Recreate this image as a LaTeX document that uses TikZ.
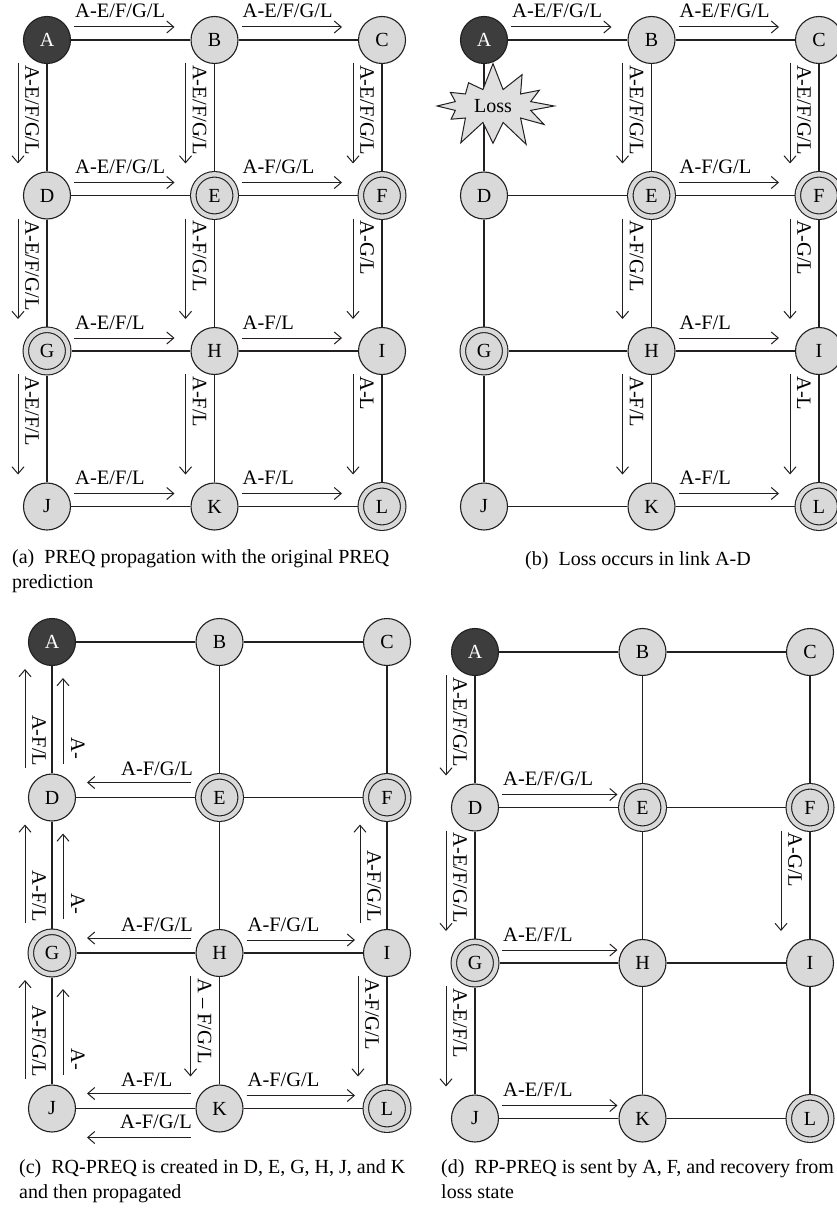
\documentclass[tikz,border=0pt]{standalone}
\usepackage{fontspec}
\setmainfont{Liberation Serif}
\usetikzlibrary{arrows.meta,positioning,shapes.symbols}
\definecolor{ink}{HTML}{231F20}
\definecolor{fillgray}{HTML}{D9D9D9}
\definecolor{srcfill}{HTML}{3D3D3D}
\tikzset{st/.style={circle,draw=ink,fill=fillgray,line width=1.1pt,minimum size=47pt,inner sep=0pt,font=\fontsize{20}{24}\selectfont},
src/.style={st,fill=srcfill,text=white},
dbl/.style={st,minimum size=42.4pt,double=fillgray,double distance=4.4pt,outer sep=3.3pt},
link/.style={draw=ink,line width=1.1pt},
arrow/.style={draw=ink,line width=1pt,-{Straight Barb[length=7pt,width=12pt]}},
lab/.style={inner sep=0pt,font=\fontsize{20.5}{23}\selectfont},
vlab/.style={lab,rotate=-90},
loss/.style={starburst,draw=ink,fill=fillgray!85!white,line width=1pt,starburst points=12,starburst point height=28pt,random starburst=7,minimum width=134pt,minimum height=90pt,inner sep=0pt,font=\fontsize{20}{24}\selectfont},
captext/.style={inner sep=0pt,align=left,font=\fontsize{20}{25}\selectfont}}

\begin{document}
\begin{tikzpicture}[x=1pt,y=1pt]
\useasboundingbox (0,0) rectangle (836,-1209);
% the four 3x4 grids
\foreach \p/\ox/\oy in {a/47/-40,b/484/-40,c/52/-642,d/475/-652}{
  \foreach \n/\i/\j/\s in {A/0/0/src,B/1/0/st,C/2/0/st,D/0/1/st,E/1/1/dbl,F/2/1/dbl,G/0/2/dbl,H/1/2/st,I/2/2/st,J/0/3/st,K/1/3/st,L/2/3/dbl}
    \node[\s] (\p\n) at (\ox+\i*167.5,\oy-\j*155.5) {\n};
  \foreach \na/\nb in {A/B,B/C,D/E,E/F,G/H,H/I,J/K,K/L,A/D,D/G,G/J,B/E,E/H,H/K,C/F,F/I,I/L}
    \draw[link] (\p\na) -- (\p\nb);
}
\node[loss] (lossb) at ([shift={(9,-66)}]bA.center) {Loss};
% rightward PREQ
\foreach \na/\nb/\e/\lbl in {aA/aB/40/{A-E/F/G/L},aB/aC/40/{A-E/F/G/L},aD/aE/40/{A-E/F/G/L},aE/aF/40/{A-F/G/L},aG/aH/40/{A-E/F/L},aH/aI/40/{A-F/L},aJ/aK/40/{A-E/F/L},aK/aL/40/{A-F/L},bA/bB/40/{A-E/F/G/L},bB/bC/40/{A-E/F/G/L},bE/bF/40/{A-F/G/L},bH/bI/40/{A-F/L},bK/bL/40/{A-F/L},cH/cI/32/{A-F/G/L},cK/cL/32/{A-F/G/L},dD/dE/25/{A-E/F/G/L},dG/dH/25/{A-E/F/L},dJ/dK/25/{A-E/F/L}}{
  \draw[arrow] ([shift={(27,13)}]\na.center) -- ([shift={(-\e,13)}]\nb.center);
  \node[lab,anchor=base west] at ([shift={(28,22)}]\na.center) {\lbl};
}
% downward PREQ
\foreach \na/\nb/\lbl in {aA/aD/{A-E/F/G/L},aB/aE/{A-E/F/G/L},aC/aF/{A-E/F/G/L},aD/aG/{A-E/F/G/L},aE/aH/{A-F/G/L},aF/aI/{A-G/L},aG/aJ/{A-E/F/L},aH/aK/{A-F/L},aI/aL/{A-L},bB/bE/{A-E/F/G/L},bC/bF/{A-E/F/G/L},bE/bH/{A-F/G/L},bF/bI/{A-G/L},bH/bK/{A-F/L},bI/bL/{A-L},cH/cK/{A -- F/G/L},cI/cL/{A-F/G/L},dA/dD/{A-E/F/G/L},dD/dG/{A-E/F/G/L},dF/dI/{A-G/L},dG/dJ/{A-E/F/L}}{
  \draw[arrow] ([shift={(-29,-23)}]\na.center) -- ([shift={(-29,32)}]\nb.center);
  \node[vlab,anchor=west] at ([shift={(-15,-25)}]\na.center) {\lbl};
}
% RQ-PREQ going up
\foreach \na/\nb/\lbl in {cD/cA/{A-F/L},cG/cD/{A-F/L},cJ/cG/{A-F/G/L},cI/cF/{A-F/G/L}}{
  \draw[arrow] ([shift={(-27,30)}]\na.center) -- ([shift={(-27,-27)}]\nb.center);
  \node[vlab,anchor=east] at ([shift={(-13,31)}]\na.center) {\lbl};
}
\foreach \na/\nb in {cD/cA,cG/cD,cJ/cG}{
  \draw[arrow] ([shift={(11,34)}]\na.center) -- ([shift={(11,-36)}]\nb.center);
  \node[vlab,anchor=east] at ([shift={(26,38)}]\na.center) {A-};
}
% RQ-PREQ going left
\foreach \na/\nb/\lbl in {cE/cD/{A-F/G/L},cH/cG/{A-F/G/L},cK/cJ/{A-F/L}}{
  \draw[arrow] ([shift={(-29,15)}]\na.center) -- ([shift={(35,15)}]\nb.center);
  \node[lab,anchor=base west] at ([shift={(69,22)}]\nb.center) {\lbl};
}
\draw[arrow] ([shift={(-29,-29)}]cK.center) -- ([shift={(35,-29)}]cJ.center);
\node[lab,anchor=base west] at ([shift={(68,-20)}]cJ.center) {A-F/G/L};
% captions
\node[captext,anchor=north west] (capa) at (12,-549) {(a)\enspace PREQ propagation with the original PREQ\\prediction};
\node[captext,anchor=base] (capb) at (638,-565) {(b)\enspace Loss occurs in link A-D};
\node[captext,anchor=north west] (capc) at (19,-1159) {(c)\enspace RQ-PREQ is created in D, E, G, H, J, and K\\and then propagated};
\node[captext,anchor=north west] (capd) at (441,-1159) {(d)\enspace RP-PREQ is sent by A, F, and recovery from\\loss state};
\end{tikzpicture}
\end{document}
